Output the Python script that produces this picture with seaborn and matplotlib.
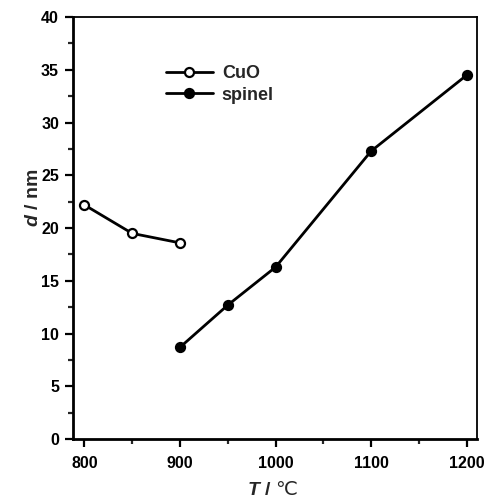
import matplotlib
matplotlib.use("Agg")
import matplotlib.pyplot as plt
import seaborn as sns
import pandas as pd
from matplotlib.ticker import MultipleLocator

cuo_T = [800, 850, 900]
cuo_d = [22.2, 19.5, 18.6]
spinel_T = [900, 950, 1000, 1100, 1200]
spinel_d = [8.7, 12.7, 16.3, 27.3, 34.5]

sns.set_style("ticks")
plt.rcParams['font.family'] = ['Liberation Sans', 'DejaVu Sans']
plt.rcParams['font.weight'] = 'bold'
plt.rcParams['mathtext.fontset'] = 'custom'
plt.rcParams['mathtext.it'] = 'Liberation Sans:italic:bold'
plt.rcParams['mathtext.rm'] = 'Noto Sans CJK SC:normal'
plt.rcParams['mathtext.bf'] = 'Liberation Sans:bold'

df_cuo = pd.DataFrame({'T': cuo_T, 'd': cuo_d})
df_sp = pd.DataFrame({'T': spinel_T, 'd': spinel_d})

fig = plt.figure(figsize=(4.86, 5.03), dpi=100)
ax = fig.add_axes([0.150, 0.127, 0.831, 0.839])

sns.lineplot(data=df_cuo, x='T', y='d', ax=ax, color='black', lw=2,
             marker='o', markersize=6.5, markerfacecolor='white',
             markeredgecolor='black', markeredgewidth=1.6, label='CuO')
sns.lineplot(data=df_sp, x='T', y='d', ax=ax, color='black', lw=2,
             marker='o', markersize=6.5, markerfacecolor='black',
             markeredgecolor='black', markeredgewidth=1.6, label='spinel')

ax.set_xlim(788, 1210.5)
ax.set_ylim(0, 40)
ax.xaxis.set_major_locator(MultipleLocator(100))
ax.xaxis.set_minor_locator(MultipleLocator(50))
ax.yaxis.set_major_locator(MultipleLocator(5))
ax.yaxis.set_minor_locator(MultipleLocator(2.5))
for s in ax.spines.values():
    s.set_color('black')
ax.spines['left'].set_linewidth(2)
ax.spines['bottom'].set_linewidth(2)
ax.spines['top'].set_linewidth(1.3)
ax.spines['right'].set_linewidth(1.3)
ax.tick_params(which='major', direction='out', length=6, width=1.6, labelsize=11.5,
               colors='black', pad=4)
ax.tick_params(which='minor', direction='out', length=3.5, width=1.6)
ax.tick_params(axis='x', which='major', pad=6)
for lbl in ax.get_xticklabels() + ax.get_yticklabels():
    lbl.set_fontweight('bold')

ax.set_xlabel(r'$\mathit{T}$ / $\mathrm{℃}$', fontsize=14, fontweight='bold')
ax.set_ylabel(r'$\mathit{d}$ / nm', fontsize=14, fontweight='bold')
ax.xaxis.set_label_coords(0.495, -0.1)
ax.yaxis.set_label_coords(-0.077, 0.572)

leg = ax.legend(loc='upper left', bbox_to_anchor=(0.19, 0.925), frameon=False,
                fontsize=13, handlelength=2.6, handletextpad=0.5, labelspacing=0.25)
for t in leg.get_texts():
    t.set_fontweight('bold')

fig.savefig('out.png', dpi=100)
